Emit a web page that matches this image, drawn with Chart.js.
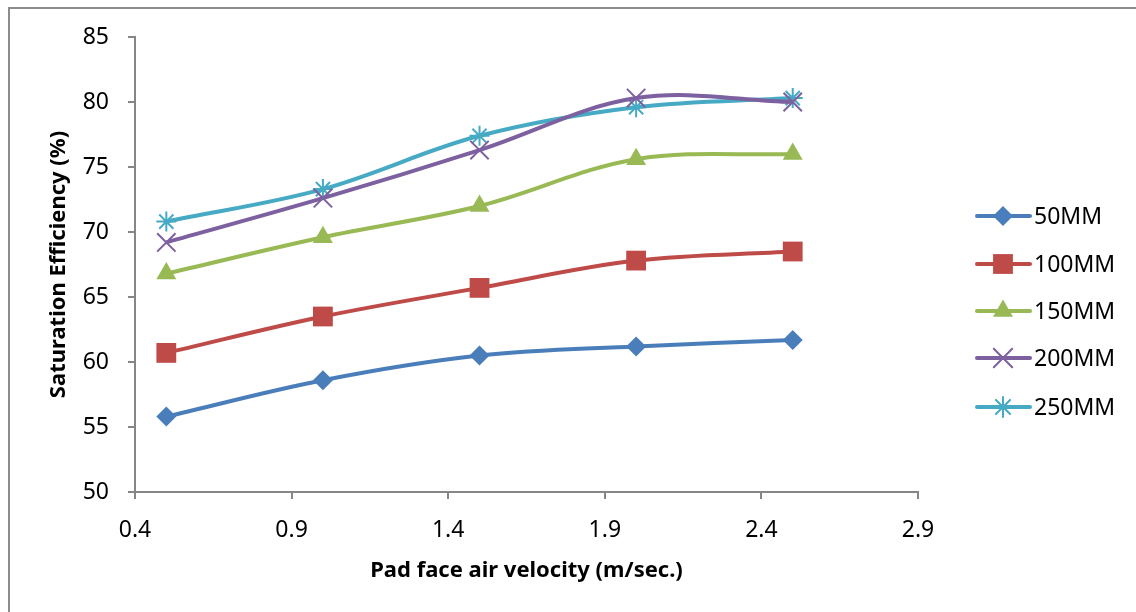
<!DOCTYPE html>
<html>
<head>
<meta charset="utf-8">
<script src="https://cdn.jsdelivr.net/npm/chart.js@4"></script>
<style>
  html, body { margin: 0; padding: 0; background: #fff; }
  #wrap { position: relative; width: 1136px; height: 612px; }
  #frame { position: absolute; left: 8px; top: 7px; right: 0; bottom: 0;
           border-top: 2px solid #8c8c8c; border-left: 2px solid #8c8c8c; }
  canvas { position: absolute; left: 0; top: 0; }
</style>
</head>
<body>
<div id="wrap">
  <div id="frame"></div>
  <canvas id="effChart" width="1136" height="612"></canvas>
</div>
<script>
// Saturation efficiency vs pad face air velocity
const velocity = [0.5, 1.0, 1.5, 2.0, 2.5];
const xTicks = [0.4, 0.9, 1.4, 1.9, 2.4, 2.9];
const yTicks = [50, 55, 60, 65, 70, 75, 80, 85];

const seriesNames = ['50MM', '100MM', '150MM', '200MM', '250MM'];
const eff50 = [55.8, 58.6, 60.5, 61.2, 61.7];
const eff100 = [60.7, 63.5, 65.7, 67.8, 68.5];
const eff150 = [66.8, 69.6, 72.0, 75.6, 76.0];
const eff200 = [69.2, 72.6, 76.3, 80.3, 80.0];
const eff250 = [70.8, 73.3, 77.4, 79.6, 80.3];

const colors = ['#4a7ebb', '#be4b48', '#98b954', '#7d60a0', '#46aac5'];
const markers = ['rectRot', 'rect', 'triangle', 'crossRot', 'star'];
const markerSize = [10, 14, 11.5, 13, 10];

const FONT = "'Noto Sans', sans-serif";

function makeSet(i, vals) {
    const thin = markers[i] === 'crossRot' || markers[i] === 'star';
    return {
        label: seriesNames[i],
        data: velocity.map((v, k) => ({ x: v, y: vals[k] })),
        borderColor: colors[i],
        backgroundColor: colors[i],
        borderWidth: 4,
        pointStyle: markers[i],
        pointRadius: markerSize[i],
        pointBorderWidth: thin ? 2 : 0,
        pointBorderColor: colors[i],
        pointBackgroundColor: colors[i],
        tension: 0.35,
        fill: false
    };
}

// Excel style legend: line with marker in the middle
const sideLegend = {
    id: 'sideLegend',
    afterDraw(chart) {
        const ctx = chart.ctx;
        const rows = [216, 264, 311, 358, 407];
        chart.data.datasets.forEach((ds, i) => {
            const y = rows[i];
            ctx.save();
            ctx.strokeStyle = ds.borderColor;
            ctx.lineWidth = 4;
            ctx.lineCap = 'round';
            ctx.beginPath();
            ctx.moveTo(977, y);
            ctx.lineTo(1030, y);
            ctx.stroke();
            ctx.lineWidth = ds.pointBorderWidth;
            ctx.fillStyle = ds.backgroundColor;
            Chart.helpers.drawPoint(ctx, {
                pointStyle: ds.pointStyle,
                radius: ds.pointRadius,
                rotation: 0,
                borderWidth: ds.pointBorderWidth
            }, 1003, y);
            ctx.fillStyle = '#000';
            ctx.font = '23px ' + FONT;
            ctx.textBaseline = 'middle';
            ctx.fillText(ds.label, 1034, y + 1);
            ctx.restore();
        });
    }
};

const ctx = document.getElementById('effChart').getContext('2d');
const effChart = new Chart(ctx, {
    type: 'line',
    data: {
        datasets: [
            makeSet(0, eff50),
            makeSet(1, eff100),
            makeSet(2, eff150),
            makeSet(3, eff200),
            makeSet(4, eff250)
        ]
    },
    options: {
        responsive: false,
        animation: false,
        layout: { padding: { top: 37, right: 218, left: 0, bottom: 0 } },
        plugins: {
            legend: { display: false },
            tooltip: { enabled: false }
        },
        scales: {
            x: {
                type: 'linear',
                min: 0.4,
                max: 2.9,
                afterBuildTicks: (axis) => { axis.ticks = xTicks.map(v => ({ value: v })); },
                afterFit: (axis) => { axis.height = 120; },
                border: { color: '#868686', width: 2 },
                grid: { drawOnChartArea: false, color: '#868686', tickLength: 7, lineWidth: 2 },
                ticks: {
                    color: '#000',
                    padding: 18,
                    font: { family: FONT, size: 23 },
                    callback: (v) => Number(v).toFixed(1)
                },
                title: {
                    display: true,
                    text: 'Pad face air velocity (m/sec.)',
                    color: '#000',
                    font: { family: FONT, size: 22, weight: 'bold' },
                    padding: { top: 0, bottom: 28 }
                }
            },
            y: {
                min: 50,
                max: 85,
                afterBuildTicks: (axis) => { axis.ticks = yTicks.map(v => ({ value: v })); },
                afterFit: (axis) => { axis.width = 135; },
                border: { color: '#868686', width: 2 },
                grid: { drawOnChartArea: false, color: '#868686', tickLength: 7, lineWidth: 2 },
                ticks: {
                    color: '#000',
                    padding: 19,
                    font: { family: FONT, size: 23 }
                },
                title: {
                    display: true,
                    text: 'Saturation Efficiency (%)',
                    color: '#000',
                    font: { family: FONT, size: 22, weight: 'bold' },
                    padding: { top: 46, bottom: 0 }
                }
            }
        }
    },
    plugins: [sideLegend]
});
</script>
</body>
</html>
